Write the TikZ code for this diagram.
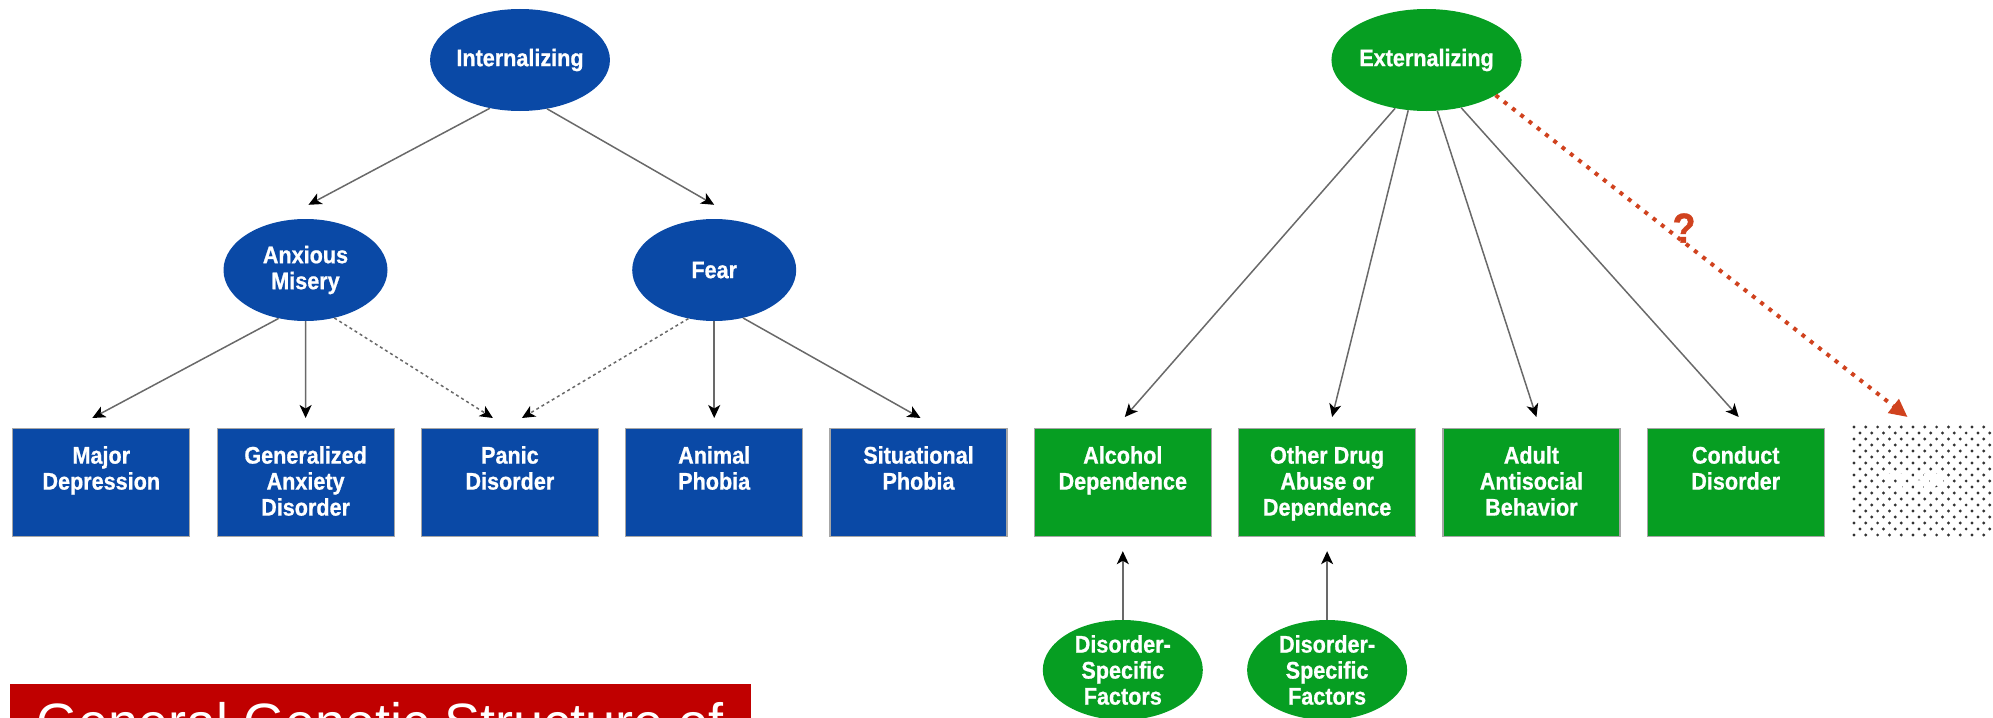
\documentclass[tikz,border=0pt]{standalone}
\usepackage{fontspec}
\usetikzlibrary{shapes.geometric,arrows.meta,calc}
\newfontfamily\condfont[FakeStretch=0.9,FakeBold=0.8]{Liberation Sans}
\newfontfamily\titlefont{Liberation Sans}
\definecolor{intblue}{RGB}{10,73,166}
\definecolor{extgreen}{RGB}{6,158,34}
\definecolor{titlered}{RGB}{192,0,0}
\definecolor{qred}{RGB}{208,66,30}
\definecolor{linkgray}{RGB}{105,105,105}

\begin{document}
\begin{tikzpicture}[x=1pt,y=-1pt,
  lbl/.style={font=\condfont\bfseries\fontsize{24}{26}\selectfont, text=white, align=center},
  factor/.style={ellipse, minimum width=164pt, minimum height=102pt, inner sep=0pt, lbl},
  blueoval/.style={factor, fill=intblue},
  greenoval/.style={factor, fill=extgreen},
  disbox/.style={rectangle, minimum width=177pt, minimum height=108pt, inner sep=0pt, anchor=north, draw=black!35, line width=1.2pt},
  bluebox/.style={disbox, fill=intblue},
  greenbox/.style={disbox, fill=extgreen},
  boxtext/.style={lbl, anchor=north, inner sep=0pt, yshift=-18pt},
  link/.style={draw=linkgray, line width=1.5pt, -{Stealth[length=13pt,width=12pt,inset=3.5pt,color=black]}},
  weaklink/.style={link, dash pattern=on 3pt off 3pt},
  querylink/.style={draw=qred, line width=4pt, dash pattern=on 4pt off 6.5pt, -{Triangle[length=18pt,width=17pt,color=qred]}},
]
\useasboundingbox (0,0) rectangle (1993,717);
\clip (0,0) rectangle (1993,717);

% latent factors
\node[blueoval] (int) at (520,60) {Internalizing};
\node[blueoval] (am) at (305.5,270) {Anxious\\Misery};
\node[blueoval] (fear) at (714.2,270) {Fear};
\node[greenoval] (ext) at (1426.5,60) {Externalizing};

% internalizing disorders
\node[bluebox] (md) at (101.3,428) {};
\node[boxtext] (md-t) at (md.north) {Major\\Depression};
\node[bluebox] (gad) at (305.6,428) {};
\node[boxtext] (gad-t) at (gad.north) {Generalized\\Anxiety\\Disorder};
\node[bluebox] (pd) at (509.9,428) {};
\node[boxtext] (pd-t) at (pd.north) {Panic\\Disorder};
\node[bluebox] (ap) at (714.2,428) {};
\node[boxtext] (ap-t) at (ap.north) {Animal\\Phobia};
\node[bluebox] (sp) at (918.5,428) {};
\node[boxtext] (sp-t) at (sp.north) {Situational\\Phobia};

% externalizing disorders
\node[greenbox] (alc) at (1122.8,428) {};
\node[boxtext] (alc-t) at (alc.north) {Alcohol\\Dependence};
\node[greenbox] (odd) at (1327.1,428) {};
\node[boxtext] (odd-t) at (odd.north) {Other Drug\\Abuse or\\Dependence};
\node[greenbox] (aab) at (1531.4,428) {};
\node[boxtext] (aab-t) at (aab.north) {Adult\\Antisocial\\Behavior};
\node[greenbox] (cd) at (1735.7,428) {};
\node[boxtext] (cd-t) at (cd.north) {Conduct\\Disorder};

% halftone box
\node[rectangle, minimum width=177pt, minimum height=108pt, inner sep=0pt, anchor=north] (adhd) at (1940.5,428) {};
\foreach \r in {0,...,18} {
  \pgfmathsetmacro\yy{427+6*\r}
  \pgfmathsetmacro\xo{mod(\r,2)*5.9}
  \foreach \c in {0,...,12} {
    \fill[black!80] ({1854+\xo+11.8*\c},\yy) circle (1.6pt);
  }
}
\node[lbl] (adhd-t) at (1913,482) {ADHD};

% disorder-specific factors
\node[greenoval, minimum width=160pt, minimum height=100pt] (ds1) at (1122.8,670) {Disorder-\\Specific\\Factors};
\node[greenoval, minimum width=160pt, minimum height=100pt] (ds2) at (1327.1,670) {Disorder-\\Specific\\Factors};

% paths
\draw[link] (int.238) -- ($(am.north)+(3,-14)$);
\draw[link] (int.299) -- ($(fear.north)+(0,-14)$);
\draw[link] (am.241) -- ($(md.north)+(-9,-10)$);
\draw[link] (am.270) -- ($(gad.north)+(0,-10)$);
\draw[weaklink] (am.301) -- ($(pd.north)+(-17,-10)$);
\draw[weaklink] (fear.242) -- ($(pd.north)+(12,-10)$);
\draw[link] (fear.270) -- ($(ap.north)+(0,-10)$);
\draw[link] (fear.301) -- ($(sp.north)+(2,-10)$);
\draw[link] (ext.237) -- ($(alc.north)+(2,-11)$);
\draw[link] (ext.250) -- ($(odd.north)+(5,-11)$);
\draw[link] (ext.282) -- ($(aab.north)+(5,-11)$);
\draw[link] (ext.306) -- ($(cd.north)+(3,-11)$);
\draw[querylink] (ext.333) -- ($(adhd.north)+(-33,-11)$);
\node[font=\condfont\bfseries\fontsize{42}{42}\selectfont, text=qred, inner sep=0pt] (q) at (1684,228) {?};
\draw[link] (ds1.north) -- ($(alc.south)+(0,14)$);
\draw[link] (ds2.north) -- ($(odd.south)+(0,14)$);

% caption bar
\node[fill=titlered, minimum width=741pt, minimum height=60pt, inner sep=0pt, anchor=north west] (titlebar) at (10,684) {};
\node[font=\titlefont\fontsize{54}{60}\selectfont, text=white, anchor=base west, inner sep=0pt] (title) at (36,741) {General Genetic Structure of};
\end{tikzpicture}
\end{document}
